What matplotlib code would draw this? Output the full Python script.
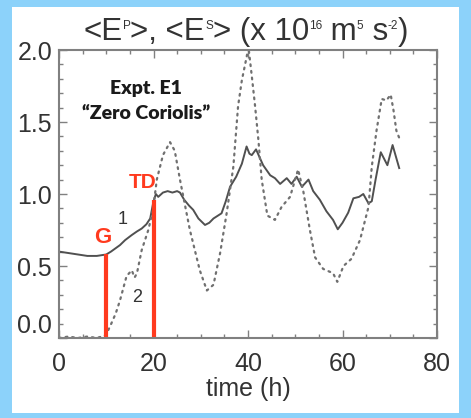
import numpy as np
import matplotlib
matplotlib.use("Agg")
from matplotlib import pyplot as plt
from matplotlib.patches import Rectangle
from matplotlib.ticker import MultipleLocator, FormatStrFormatter

plt.rcParams['font.family'] = ['Liberation Sans', 'DejaVu Sans']

# curva 1 (linha cheia)
t1 = [0, 2, 4, 6, 8, 10, 11, 12.9, 14, 15.4, 16.5, 17.5, 18.5, 19.3, 20, 20.5,
      21, 22, 23, 24, 25, 25.6, 26.5, 27.5, 28.4, 29.5, 30.9, 31.8, 32.7, 34.4,
      35.3, 36.2, 37.5, 38.7, 39.7, 40.3, 40.8, 41.7, 43.2, 44.7, 45.7, 46.8,
      48.2, 49.2, 50.3, 51.4, 52.8, 53.8, 55.2, 56.6, 58, 59.0, 60, 61.2, 62.3,
      63.5, 64.4, 65.5, 66.2, 67, 68.1, 69.5, 70.6, 72.0]
v1 = [0.60, 0.59, 0.58, 0.57, 0.57, 0.58, 0.60, 0.645, 0.68, 0.715, 0.74, 0.76,
      0.79, 0.83, 0.95, 1.0, 0.98, 1.01, 1.02, 1.01, 1.02, 1.01, 0.96, 0.92,
      0.89, 0.83, 0.785, 0.80, 0.83, 0.866, 0.95, 1.05, 1.12, 1.21, 1.33, 1.28,
      1.27, 1.31, 1.20, 1.13, 1.11, 1.07, 1.11, 1.07, 1.12, 1.05, 1.10, 1.02,
      0.96, 0.88, 0.82, 0.755, 0.80, 0.87, 0.97, 0.98, 1.00, 0.935, 0.95, 1.1,
      1.29, 1.20, 1.34, 1.18]

# curva 2 (pontilhada)
t2 = [0, 2, 4, 6, 8, 9, 9.9, 10.8, 12, 12.9, 14.3, 15.4, 16.0, 16.5, 17.5, 18.9,
      19.9, 20.7, 22, 23.5, 24.5, 25.6, 27.7, 29.8, 31.3, 32.7, 34.1, 35.5,
      36.9, 37.9, 38.7, 39.7, 40.1, 40.8, 41.5, 42.2, 42.9, 44.1, 45.7, 47.1,
      48.9, 50.6, 51.7, 53.1, 54.2, 55.9, 58.0, 58.9, 60.2, 61.9, 63.7, 65.5,
      66.2, 67.2, 68.3, 69.3, 70.2, 70.8, 71.4, 72.0]
v2 = [0.0, 0.01, 0.0, 0.01, 0.0, 0.01, 0.02, 0.08, 0.17, 0.26, 0.43, 0.47, 0.42,
      0.45, 0.61, 0.75, 0.89, 1.10, 1.27, 1.36, 1.30, 1.10, 0.75, 0.47, 0.33,
      0.37, 0.59, 0.87, 1.19, 1.61, 1.79, 1.95, 2.02, 1.82, 1.61, 1.375, 1.10,
      0.85, 0.82, 0.91, 0.98, 1.17, 1.02, 0.75, 0.56, 0.48, 0.45, 0.39, 0.50,
      0.55, 0.68, 0.91, 1.19, 1.44, 1.66, 1.65, 1.69, 1.58, 1.44, 1.39]

# marcadores G e TD
t_marks = [10, 20]
v_marks = [0.58, 0.96]

fig = plt.figure(figsize=(4.71, 4.18), dpi=100, facecolor='#8CD2FA')
W, H = 471.0, 418.0
fig.add_artist(Rectangle((12 / W, 1 - 413 / H), 447 / W, 406 / H,
                         transform=fig.transFigure, facecolor='white',
                         edgecolor='none', zorder=-5))

ax = fig.add_axes([59 / W, 1 - 338 / H, 378 / W, 288 / H])
ax.set_facecolor('white')

ax.plot(t1, v1, color='#505050', lw=1.4)
ax.plot(t2, v2, color='#707070', lw=1.6, linestyle=(0, (0.8, 2.2)),
        dash_capstyle='round')

for t, v in zip(t_marks, v_marks):
    ax.plot([t, t], [0, v], color='#FF3A1E', lw=3, solid_capstyle='butt')

ax.text(9.3, 0.70, 'G', color='#FF3A1E', fontsize=16, fontweight='bold',
        ha='center', va='center')
ax.text(17.8, 1.08, 'TD', color='#FF3A1E', fontsize=15, fontweight='bold',
        ha='center', va='center')
ax.text(13.5, 0.82, '1', color='#333333', fontsize=13, ha='center', va='center')
ax.text(16.5, 0.28, '2', color='#333333', fontsize=13, ha='center', va='center')

ax.text(18.4, 1.73, 'Expt. E1', fontsize=14, fontweight='heavy',
        family=['Lato', 'DejaVu Sans'], color='#1a1a1a', ha='center', va='center')
ax.text(18.4, 1.56, '\u201cZero Coriolis\u201d', fontsize=14, fontweight='heavy',
        family=['Lato', 'DejaVu Sans'], color='#1a1a1a', ha='center', va='center')

ax.set_xlim(0, 80)
ax.set_ylim(0, 2.0)
ax.xaxis.set_major_locator(MultipleLocator(20))
ax.xaxis.set_minor_locator(MultipleLocator(5))
ax.yaxis.set_major_locator(MultipleLocator(0.5))
ax.yaxis.set_minor_locator(MultipleLocator(0.1))
ax.yaxis.set_major_formatter(FormatStrFormatter('%.1f'))

for s in ax.spines.values():
    s.set_color('#808080')
    s.set_linewidth(1.5)
ax.tick_params(which='both', direction='in', top=True, right=True,
               color='#808080', labelcolor='#333333', labelsize=18)
ax.tick_params(which='major', length=6, width=1)
ax.tick_params(which='minor', length=3, width=1)
ax.tick_params(axis='x', which='major', pad=10)
ax.tick_params(axis='y', which='major', pad=5)

ax.set_xlabel('time (h)', fontsize=18, color='#333333', labelpad=1)

# rotulo 0.0 fica acima do eixo, como no original
fig.canvas.draw()
for tk in ax.yaxis.get_major_ticks():
    if tk.label1.get_text() == '0.0':
        tk.label1.set_verticalalignment('bottom')

# titulo montado em pedacos (expoentes pequenos)
pieces = [('<E', 0), ('P', 1), ('>, <E', 0), ('S', 1), ('> (x 10', 0), ('16', 1),
          (' m', 0), ('5', 1), (' s', 0), ('-2', 1), (')', 0)]
base_size, sup_size = 22.5, 8.5
renderer = fig.canvas.get_renderer()
objs = []
for s, sup in pieces:
    tx = fig.text(0, 0, s, fontsize=sup_size if sup else base_size,
                  color='#333333', ha='left', va='baseline')
    objs.append((tx, sup))
widths = [tx.get_window_extent(renderer).width + (2 if sup else 0) for tx, _ in objs]
total = sum(widths)
x0 = (246 - total / 2)
yb = H - 40
for (tx, sup), w in zip(objs, widths):
    tx.set_position((x0 / W, (yb + (11 if sup else 0)) / H))
    x0 += w

fig.savefig('out.png', dpi=100, facecolor=fig.get_facecolor())
